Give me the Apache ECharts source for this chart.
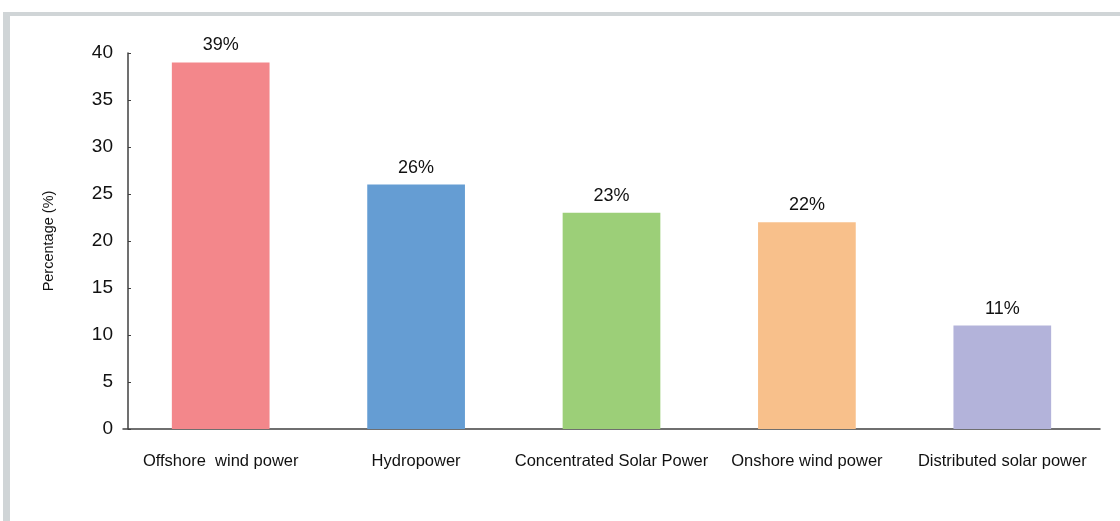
<!DOCTYPE html>
<html>
<head>
<meta charset="utf-8">
<style>
  html, body { margin: 0; padding: 0; background: #ffffff; }
  #chart { width: 1120px; height: 521px; }
</style>
<script src="https://cdn.jsdelivr.net/npm/echarts@6/dist/echarts.min.js"></script>
</head>
<body>
<div id="chart"></div>
<script>
// Share of each renewable technology (percent)
const categories = ['Offshore  wind power', 'Hydropower', 'Concentrated Solar Power', 'Onshore wind power', 'Distributed solar power'];
const values = [39, 26, 23, 22, 11];
const barColors = ['#f3878b', '#659dd3', '#9ccf78', '#f8c08b', '#b3b3da'];
const yTicks = { min: 0, max: 40, interval: 5 };
const yAxisTitle = 'Percentage (%)';

const FONT = "'Liberation Sans Narrow', 'Arial Narrow', 'Liberation Sans', sans-serif";

const chart = echarts.init(document.getElementById('chart'), null, { renderer: 'canvas' });

chart.setOption({
  backgroundColor: '#ffffff',
  animation: false,
  graphic: [
    // light grey frame along the top and left edges
    { type: 'rect', shape: { x: 3, y: 12, width: 1117, height: 4 }, style: { fill: '#d0d5d7' } },
    { type: 'rect', shape: { x: 3, y: 12, width: 7, height: 509 }, style: { fill: '#d0d5d7' } }
  ],
  grid: { left: 123, right: 20, top: 53, bottom: 92, containLabel: false },
  xAxis: {
    type: 'category',
    data: categories,
    boundaryGap: true,
    axisLine: { show: true, lineStyle: { color: '#404040', width: 1.5 } },
    axisTick: { show: true, inside: true, alignWithLabel: true, length: 3, lineStyle: { color: '#404040' } },
    axisLabel: { color: '#111', fontFamily: FONT, fontSize: 16.5, margin: 24, interval: 0 }
  },
  yAxis: {
    type: 'value',
    min: yTicks.min,
    max: yTicks.max,
    interval: yTicks.interval,
    offset: -5,
    name: yAxisTitle,
    nameLocation: 'middle',
    nameGap: 72,
    nameRotate: 90,
    nameTextStyle: { color: '#111', fontFamily: FONT, fontSize: 14.5 },
    splitLine: { show: false },
    axisLine: { show: true, lineStyle: { color: '#404040', width: 1.5 } },
    axisTick: { show: true, inside: true, length: 3, lineStyle: { color: '#404040' } },
    axisLabel: { color: '#111', fontFamily: FONT, fontSize: 19, margin: 15 }
  },
  series: [{
    type: 'bar',
    data: values.map((v, i) => ({ value: v, itemStyle: { color: barColors[i] } })),
    barWidth: '50%',
    label: {
      show: true,
      position: 'top',
      distance: 8,
      formatter: p => p.value + '%',
      color: '#111',
      fontFamily: FONT,
      fontSize: 18
    }
  }]
});
</script>
</body>
</html>
